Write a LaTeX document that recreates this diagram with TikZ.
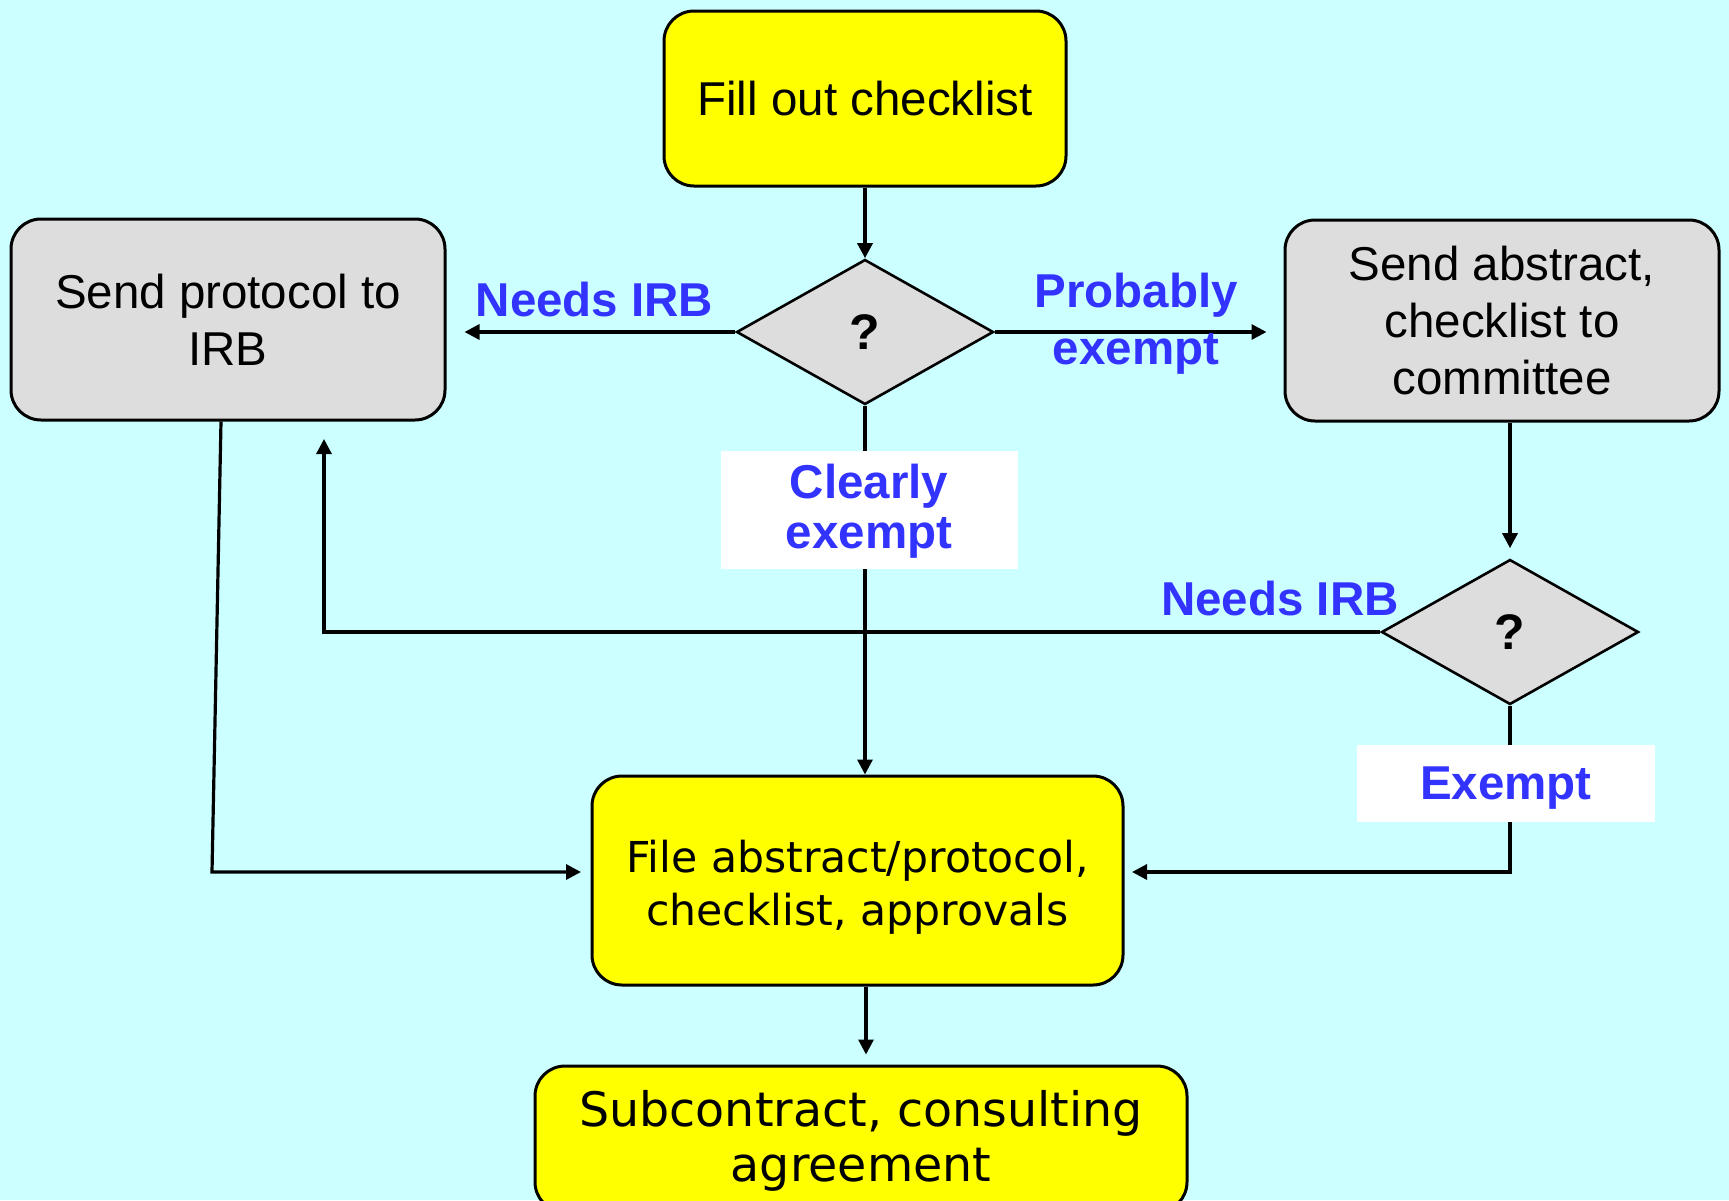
\documentclass[tikz,border=0pt]{standalone}
\usepackage{fontspec}
\setmainfont{Liberation Sans}
\newfontfamily\verd{DejaVu Sans}
\usetikzlibrary{shapes.geometric,arrows.meta,calc}
\definecolor{bgc}{RGB}{204,255,255}
\definecolor{ylw}{RGB}{255,255,0}
\definecolor{gry}{RGB}{221,221,221}
\definecolor{lblue}{RGB}{51,51,255}
\tikzset{
  box/.style={draw=black, line width=1.5pt, rounded corners=15pt, align=center, inner sep=0pt},
  ybox/.style={box, fill=ylw},
  gbox/.style={box, fill=gry},
  dec/.style={diamond, draw=black, line width=1.3pt, fill=gry, inner sep=0pt,
    minimum width=128.5pt, minimum height=72.5pt,
    font=\fontsize{25}{30}\selectfont\bfseries},
  arr/.style={line width=1.6pt, -{Triangle[length=7.5pt,width=7.5pt]}},
  lbl/.style={text=lblue, font=\fontsize{23.75}{25}\selectfont\bfseries, align=center, inner sep=0pt},
  wbox/.style={fill=white, inner sep=0pt},
  arialf/.style={font=\fontsize{23.75}{28.5}\selectfont},
  boxtext/.style={align=center, inner sep=0pt},
}
\begin{document}
\begin{tikzpicture}[x=0.5pt,y=-0.5pt]
\fill[bgc] (0,0) rectangle (1729,1200);
\useasboundingbox (0,0) rectangle (1729,1200);
\clip (0,0) rectangle (1729,1200);

% nodes
\node[ybox, arialf, minimum width=201pt, minimum height=87.5pt] (fill) at (865,98.5) {Fill out checklist};
\node[dec] (d1) at (865,332) {?};
\node[gbox, arialf, minimum width=217pt, minimum height=100.5pt] (L) at (228,319.5) {Send protocol to\\IRB};
\node[gbox, arialf, minimum width=217pt, minimum height=100.5pt] (R) at (1502,320.5) {Send abstract,\\checklist to\\committee};
\node[dec] (d2) at (1510,632) {?};
\node[ybox, minimum width=265.5pt, minimum height=104.5pt] (F) at (857.5,880.5) {};
\node[boxtext, font=\verd\fontsize{21.3}{26.5}\selectfont] (Ftxt) at (857.5,887) {File abstract/protocol,\\checklist, approvals};
\node[ybox, minimum width=326pt, minimum height=73pt] (B) at (861,1139) {};
\node[boxtext, font=\verd\fontsize{23.75}{27.5}\selectfont] (Btxt) at (861,1141) {Subcontract, consulting\\agreement};

% free ends
\coordinate (irbin) at (324,439);
\coordinate (fin) at (1132,872);
\coordinate (lcorner) at (212,872);
\coordinate (fleft) at (581,872);

% connectors
\draw[arr] (fill.south) -- (d1.north);
\draw[arr] (d1.west) -- ($(L.east |- d1.west)+(18,0)$);
\draw[arr] (d1.east) -- ($(R.west |- d1.east)+(-17,0)$);
\draw[arr] (d1.south) -- (d1.south |- F.north);
\draw[arr] ($(R.south)+(8,0)$) -- ($(d2.north)+(0,-10)$);
\draw[arr] (d2.west) -| (irbin);
\draw[arr] (d2.south) |- (fin);
\draw[arr] ($(L.south)+(-7,0)$) -- (lcorner) -- (fleft);
\draw[arr] ($(F.south)+(8.5,0)$) -- ($(B.north)+(5,-10)$);

% labels
\node[lbl] (nirb1) at (594.5,300) {Needs IRB};
\node[lbl, font=\fontsize{23.75}{28.5}\selectfont\bfseries] (prob) at (1136,324) {Probably\\exempt};
\node[wbox, minimum width=148.5pt, minimum height=59pt] (cebox) at (869.5,510) {};
\node[lbl] (clear) at (869,511) {Clearly\\exempt};
\node[lbl] (nirb2) at (1280,599) {Needs IRB};
\node[wbox, minimum width=149pt, minimum height=38.5pt] (exbox) at (1506,783) {};
\node[lbl] (ex) at (1506,788) {Exempt};
\end{tikzpicture}
\end{document}
